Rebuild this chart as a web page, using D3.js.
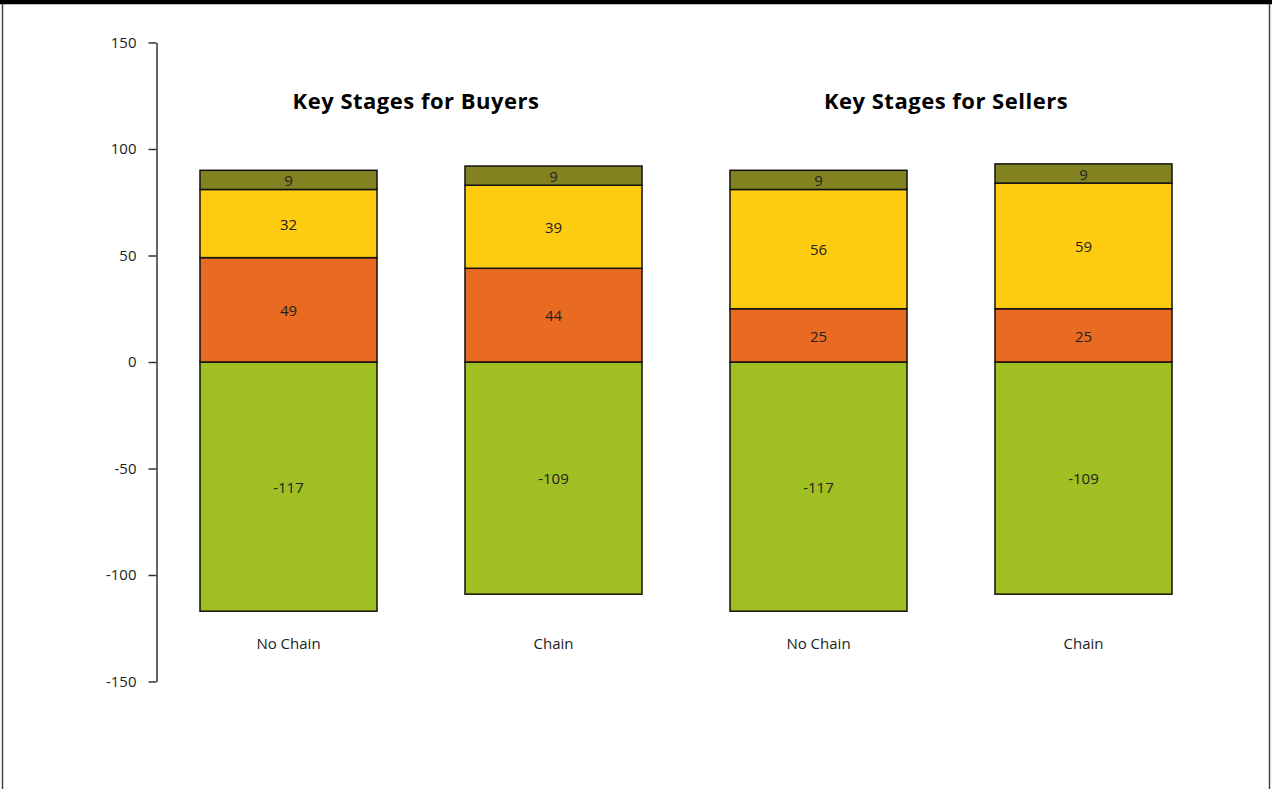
<!DOCTYPE html>
<html>
<head>
<meta charset="utf-8">
<script src="https://cdn.jsdelivr.net/npm/d3@7"></script>
<style>
  html, body { margin: 0; padding: 0; background: #fff; }
  svg { display: block; font-family: "Open Sans", "Noto Sans", sans-serif; }
</style>
</head>
<body>
<svg id="chart" width="1272" height="789"></svg>
<script>
// ===============================
// Dades
// ===============================
const groups = ["Key Stages for Buyers", "Key Stages for Sellers"];
const categories = ["No Chain", "Chain"];
const bars = ["buyers-nochain", "buyers-chain", "sellers-nochain", "sellers-chain"];
const barLabels = ["No Chain", "Chain", "No Chain", "Chain"];
const barGroup = [0, 0, 1, 1];
// segment order: bottom (negative) then stacked upward
const negValues = [-117, -109, -117, -109];
const orangeValues = [49, 44, 25, 25];
const yellowValues = [32, 39, 56, 59];
const oliveValues = [9, 9, 9, 9];
const yTicks = [150, 100, 50, 0, -50, -100, -150];
const segColors = ["#9fbf22", "#e96a21", "#fdcb10", "#838221"];

// ===============================
// Escales
// ===============================
const svg = d3.select("#chart");
const W = 1272, H = 789;

const y = d3.scaleLinear().domain([-150, 150]).range([681.5, 42.5]);
const x = d3.scaleBand().domain(bars).range([156, 1216]).paddingInner(0.332).paddingOuter(0.166);

// marc
svg.append("rect").attr("x", 0).attr("y", 0).attr("width", W).attr("height", 4).attr("fill", "#000");
svg.append("line").attr("x1", 0).attr("x2", W).attr("y1", 4.5).attr("y2", 4.5).attr("stroke", "#bbb");
svg.append("line").attr("x1", 2.5).attr("x2", 2.5).attr("y1", 4).attr("y2", H).attr("stroke", "#444").attr("stroke-width", 1.5);
svg.append("line").attr("x1", 1269.5).attr("x2", 1269.5).attr("y1", 4).attr("y2", H).attr("stroke", "#444").attr("stroke-width", 1.5);

// ===============================
// Eix Y
// ===============================
const yAxis = svg.append("g")
  .attr("transform", "translate(156.5,0)")
  .call(d3.axisLeft(y).tickValues(yTicks).tickFormat(d => String(d))
    .tickSize(8).tickPadding(12).tickSizeOuter(0));
yAxis.select(".domain").attr("stroke", "#333").attr("stroke-width", 1.5);
yAxis.selectAll(".tick line").attr("stroke", "#333").attr("stroke-width", 1.5);
yAxis.selectAll(".tick text")
  .style("font-size", "15px")
  .style("fill", "#222")
  .style("font-family", "'Open Sans', sans-serif");

// ===============================
// Barres apilades
// ===============================
const stacks = bars.map((b, i) => {
  const segs = [];
  segs.push({ bar: b, v0: negValues[i], v1: 0, val: negValues[i], c: segColors[0] });
  let base = 0;
  [orangeValues[i], yellowValues[i], oliveValues[i]].forEach((v, k) => {
    segs.push({ bar: b, v0: base, v1: base + v, val: v, c: segColors[k + 1] });
    base += v;
  });
  return segs;
}).flat();

const segG = svg.append("g");
segG.selectAll("rect")
  .data(stacks)
  .enter()
  .append("rect")
  .attr("x", d => x(d.bar))
  .attr("width", x.bandwidth())
  .attr("y", d => y(Math.max(d.v0, d.v1)))
  .attr("height", d => Math.abs(y(d.v0) - y(d.v1)))
  .attr("fill", d => d.c)
  .attr("stroke", "#111")
  .attr("stroke-width", 1.5);

segG.selectAll("text")
  .data(stacks)
  .enter()
  .append("text")
  .attr("x", d => x(d.bar) + x.bandwidth() / 2)
  .attr("y", d => (y(d.v0) + y(d.v1)) / 2)
  .attr("dy", "0.42em")
  .attr("text-anchor", "middle")
  .style("font-size", "15px")
  .style("fill", "#222")
  .text(d => String(d.val));

// etiquetes de categoria
svg.append("g").selectAll("text")
  .data(bars)
  .enter()
  .append("text")
  .attr("x", d => x(d) + x.bandwidth() / 2)
  .attr("y", 644)
  .attr("dy", "0.35em")
  .attr("text-anchor", "middle")
  .style("font-size", "15px")
  .style("fill", "#222")
  .text((d, i) => barLabels[i]);

// ===============================
// Títols
// ===============================
svg.append("g").selectAll("text")
  .data(groups)
  .enter()
  .append("text")
  .attr("x", (d, gi) => {
    const idx = bars.filter((b, i) => barGroup[i] === gi);
    return (x(idx[0]) + x(idx[1]) + x.bandwidth()) / 2 - 5;
  })
  .attr("y", 101)
  .attr("dy", "0.35em")
  .attr("text-anchor", "middle")
  .style("font-size", "22px")
  .style("letter-spacing", "0.5px")
  .style("font-weight", "bold")
  .style("fill", "#000")
  .text(d => d);
</script>
</body>
</html>
